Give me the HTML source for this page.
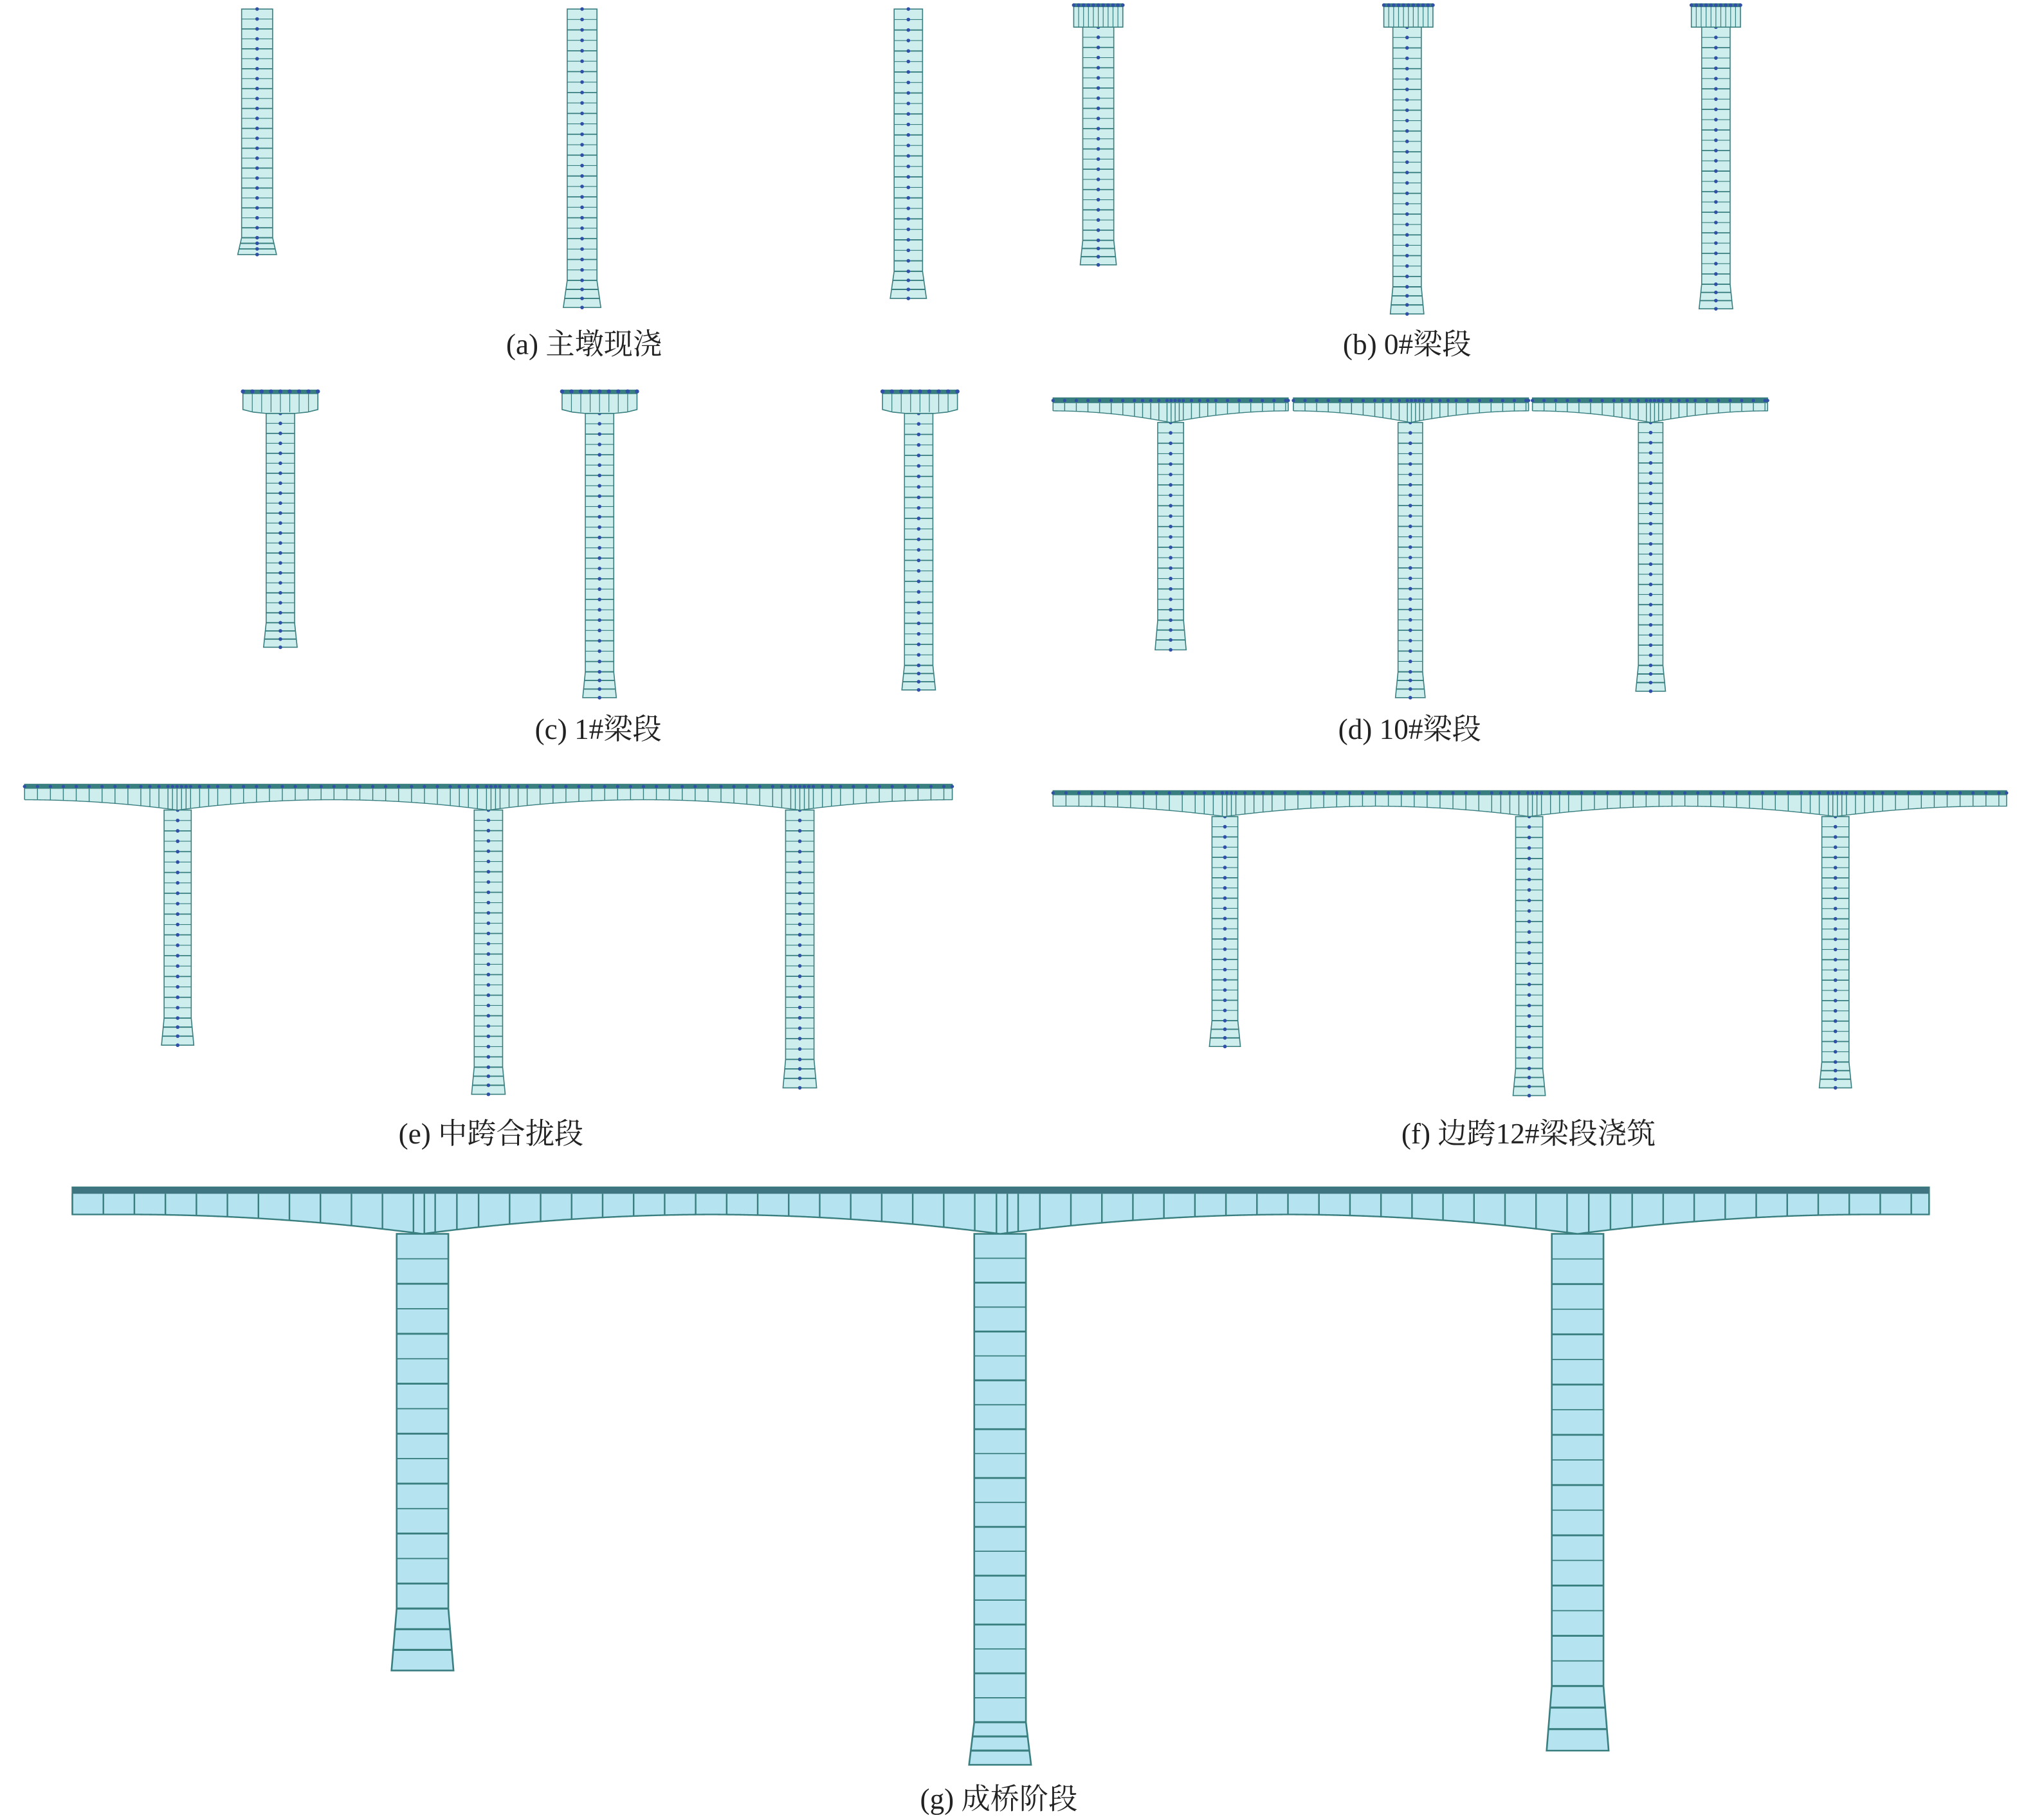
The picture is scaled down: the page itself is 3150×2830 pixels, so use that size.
<!DOCTYPE html>
<html><head><meta charset="utf-8"><style>
html,body{margin:0;padding:0;background:#fff}
svg{display:block}
text{font-family:"Liberation Serif","Noto Serif CJK SC",serif;font-size:22.5px;fill:#222}
</style></head><body>
<svg id="s" width="3150" height="2830" viewBox="0 0 1568 1408.7" preserveAspectRatio="none" xmlns="http://www.w3.org/2000/svg">
<g id="g"></g>
<text x="452" y="274" text-anchor="middle">(a) 主墩现浇</text>
<text x="1089" y="274" text-anchor="middle">(b) 0#梁段</text>
<text x="463" y="572" text-anchor="middle">(c) 1#梁段</text>
<text x="1091" y="572" text-anchor="middle">(d) 10#梁段</text>
<text x="380" y="885" text-anchor="middle">(e) 中跨合拢段</text>
<text x="1183" y="885" text-anchor="middle">(f) 边跨12#梁段浇筑</text>
<text x="773" y="1400" text-anchor="middle">(g) 成桥阶段</text>
</svg>
<script>
var o=[];
var F='#cdeeed',S='#3a7f80',N='#3050a8';
function r(x,y,w,h,f,s,sw){o.push('<rect x="'+x+'" y="'+y+'" width="'+w+'" height="'+h+'" fill="'+f+'" stroke="'+(s||'none')+'" stroke-width="'+(sw||0)+'"/>');}
function l(x1,y1,x2,y2,s,sw){o.push('<line x1="'+x1+'" y1="'+y1+'" x2="'+x2+'" y2="'+y2+'" stroke="'+s+'" stroke-width="'+sw+'"/>');}
function node(x,y,rr){o.push('<circle cx="'+x+'" cy="'+y+'" r="'+(rr||1.4)+'" fill="'+N+'"/>');}
function pier(x1,x2,top,bot,fb,fl,sp,nodes,fill,sw){
  fill=fill||F;sw=sw||0.8;
  var fx1=x1-fl,fx2=x2+fl;
  o.push('<polygon points="'+x1+','+top+' '+x2+','+top+' '+x2+','+bot+' '+fx2+','+fb+' '+fx1+','+fb+' '+x1+','+bot+'" fill="'+fill+'" stroke="'+S+'" stroke-width="'+sw+'"/>');
  var n=Math.round((bot-top)/sp);var d=(bot-top)/n;
  for(var i=1;i<n;i++){l(x1,top+i*d,x2,top+i*d,S,sw*(i%2?0.7:1.1));}
  var nf=3,df=(fb-bot)/nf;
  for(var j=0;j<nf;j++){var y=bot+j*df,t=j/nf;l(x1-fl*t,y,x2+fl*t,y,S,sw*1.2);}
  if(nodes){var c=(x1+x2)/2;for(i=0;i<=n;i++)node(c,top+i*d);for(j=1;j<=nf;j++)node(c,bot+j*df);}
}
function deck(x1,x2,top,band,endBot,pierBot,piers,L,segw,nodes,fill,bandCol,sw){
  fill=fill||F;bandCol=bandCol||S;sw=sw||0.7;
  function yb(x){var m=0;piers.forEach(function(p){var t=1-Math.abs(x-p)/L;if(t>0)m=Math.max(m,t*t);});return endBot+(pierBot-endBot)*m;}
  var pts=[x1+','+top,x2+','+top];
  for(var x=x2;x>=x1;x-=1)pts.push(x+','+yb(x).toFixed(2));
  pts.push(x1+','+yb(x1));
  o.push('<polygon points="'+pts.join(' ')+'" fill="'+fill+'" stroke="'+S+'" stroke-width="'+sw+'"/>');
  r(x1,top,x2-x1,band,bandCol);
  var xs=[x1];x=x1;
  while(x<x2){var dmin=1e9;piers.forEach(function(p){dmin=Math.min(dmin,Math.abs(x-p));});
    var w=segw*(dmin<8?0.35:(dmin<30?0.7:1));x+=w;if(x<x2-1)xs.push(x);}
  xs.push(x2);
  xs.forEach(function(v){l(v,top+band,v,yb(v),S,sw);if(nodes)node(v,top+band/2,1.3);});
}
function cap(x1,x2,top,bot,n){
  r(x1,top,x2-x1,bot-top,F,S,0.8);r(x1,top,x2-x1,2.5,S);
  for(var i=1;i<n;i++){var x=x1+(x2-x1)*i/n;l(x,top,x,bot,S,0.6);}
  for(i=0;i<=n;i++)node(x1+(x2-x1)*i/n,top+1,1.4);
}
function hcap(x1,x2,top,bot){
  var c=(x1+x2)/2;
  o.push('<polygon points="'+x1+','+top+' '+x2+','+top+' '+x2+','+(bot-3)+' '+(x2-8)+','+(bot-1)+' '+(c+11)+','+bot+' '+(c-11)+','+bot+' '+(x1+8)+','+(bot-1)+' '+x1+','+(bot-3)+'" fill="'+F+'" stroke="'+S+'" stroke-width="0.8"/>');
  r(x1,top,x2-x1,3,S);
  for(var i=1;i<8;i++){var x=x1+(x2-x1)*i/8;l(x,top,x,bot-1,S,0.6);}
  for(i=0;i<=8;i++)node(x1+(x2-x1)*i/8,top+1,1.6);
}
pier(187,211,7,184,197,3,7.7,true);
pier(439,462,7,217,238,3,8,true);
pier(692,714,7,210,231,3,8,true);
pier(838,862,21,186,205,2,7.8,true);cap(831,869,3,21,10);
pier(1078,1100,21,222,243,2,8,true);cap(1071,1109,3,21,10);
pier(1317,1339,21,220,239,2,8,true);cap(1309,1347,3,21,10);
pier(206,228,320,482,501,2,7.8,true);hcap(188,246,302,320);
pier(453,475,320,520,540,2,8,true);hcap(435,493,302,320);
pier(700,722,320,515,534,2,8,true);hcap(683,741,302,320);
pier(896,916,327,480,503,2,8,true);deck(815,997,308,4,318,327,[906],92,9,true);
pier(1082,1101,327,520,540,2,8,true);deck(1001,1183,308,4,318,327,[1091.5],92,9,true);
pier(1268,1287,327,515,535,2,8,true);deck(1186,1368,308,4,318,327,[1277.5],92,9,true);
pier(127,148,627,788,809,2,8,true);
pier(367,389,627,826,847,2,8,true);
pier(608,630,627,820,842,2,8,true);
deck(19,737,607,3.5,619,627,[137.5,378,619],120,10,true);
pier(938,958,632,790,810,2,8,true);
pier(1173,1194,632,827,848,2,8,true);
pier(1410,1431,632,822,842,2,8,true);
deck(815,1553,612,3.5,624,632,[948,1183.5,1420.5],120,10,true);
var G='#b5e3ef';
pier(307,347,955,1245,1293,4,19,false,G,1.3);
pier(754,794,955,1333,1366,4,19,false,G,1.3);
pier(1201,1241,955,1305,1355,4,19,false,G,1.3);
deck(56,1493,919,5,940,955,[327,774,1221],230,24,false,G,'#3f7580',1.2);
document.getElementById('g').innerHTML=o.join('');
</script>
</body></html>
